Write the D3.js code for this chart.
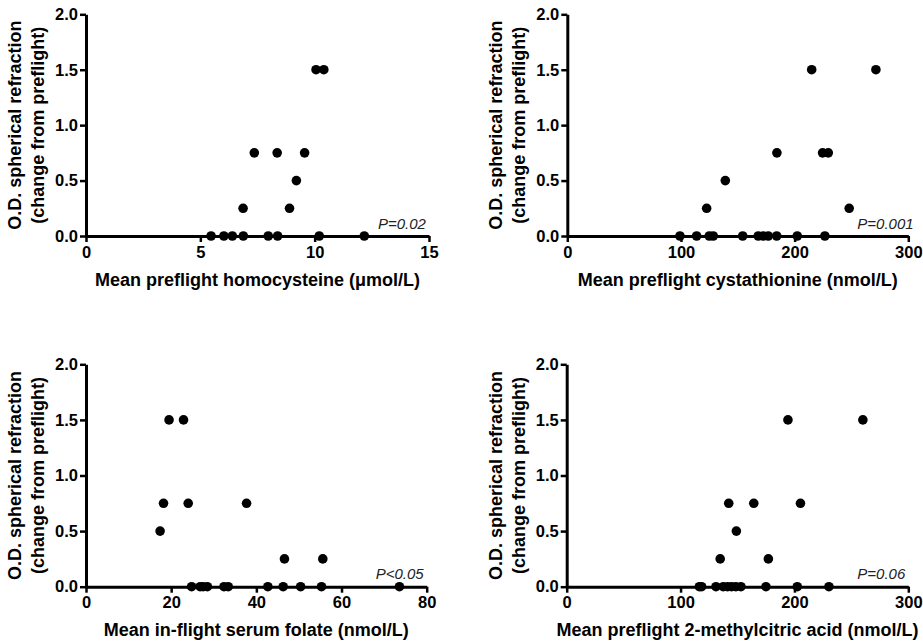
<!DOCTYPE html>
<html><head><meta charset="utf-8">
<script src="https://cdn.jsdelivr.net/npm/d3@7"></script>
<style>
body{margin:0;background:#fff}
svg{display:block}
text{font-family:"Liberation Sans",Arial,Helvetica,sans-serif}
</style>
</head><body><svg id="c" width="923" height="643"></svg>
<script>
// ---- data ----
const yTickValues = [0, 0.5, 1.0, 1.5, 2.0];
const yTitleLines = ["O.D. spherical refraction", "(change from preflight)"];

const homocysteineX = [5.47, 6.03, 6.40, 6.88, 7.97, 8.38, 10.2, 12.17, 6.87, 8.9, 9.2, 7.36, 8.36, 9.56, 10.06, 10.4];
const homocysteineY = [0, 0, 0, 0, 0, 0, 0, 0, 0.25, 0.25, 0.5, 0.75, 0.75, 0.75, 1.5, 1.5];
const homocysteineTicks = [0, 5, 10, 15];

const cystathionineX = [99.1, 113.8, 124.9, 128.4, 154.3, 168, 172.4, 176.8, 184.2, 202.3, 226.6, 122.6, 248, 139, 184.4, 224.6, 229.6, 215, 271.5];
const cystathionineY = [0, 0, 0, 0, 0, 0, 0, 0, 0, 0, 0, 0.25, 0.25, 0.5, 0.75, 0.75, 0.75, 1.5, 1.5];
const cystathionineTicks = [0, 100, 200, 300];

const folateX = [24.8, 26.8, 27.5, 28.5, 32.4, 33.4, 42.7, 46.3, 50.4, 55.3, 73.6, 46.6, 55.6, 17.4, 18.2, 24.0, 37.7, 19.5, 22.9];
const folateY = [0, 0, 0, 0, 0, 0, 0, 0, 0, 0, 0, 0.25, 0.25, 0.5, 0.75, 0.75, 0.75, 1.5, 1.5];
const folateTicks = [0, 20, 40, 60, 80];

const methylcitricX = [116.5, 118.5, 131.1, 137.5, 141.3, 144.8, 148.6, 153.0, 175.0, 202.5, 230.3, 134.8, 177.1, 149, 142.3, 164.3, 205.3, 194.3, 260.1];
const methylcitricY = [0, 0, 0, 0, 0, 0, 0, 0, 0, 0, 0, 0.25, 0.25, 0.5, 0.75, 0.75, 0.75, 1.5, 1.5];
const methylcitricTicks = [0, 100, 200, 300];

const xTitles = [
  "Mean preflight homocysteine (\u03BCmol/L)",
  "Mean preflight cystathionine (nmol/L)",
  "Mean in-flight serum folate (nmol/L)",
  "Mean preflight 2-methylcitric acid (nmol/L)"
];
const pLabels = ["P=0.02", "P=0.001", "P<0.05", "P=0.06"];

// ---- layout ----
const panels = [
  {xs: homocysteineX, ys: homocysteineY, ticks: homocysteineTicks, box: {l: 86, r: 429, t: 14.3, b: 236}},
  {xs: cystathionineX, ys: cystathionineY, ticks: cystathionineTicks, box: {l: 567.3, r: 908.3, t: 14.3, b: 236}},
  {xs: folateX, ys: folateY, ticks: folateTicks, box: {l: 86, r: 426.7, t: 364.3, b: 586.7}},
  {xs: methylcitricX, ys: methylcitricY, ticks: methylcitricTicks, box: {l: 566.7, r: 908.3, t: 364.3, b: 586.7}}
];

const svg = d3.select("#c");

panels.forEach((p, i) => {
  const B = p.box;
  const x = d3.scaleLinear().domain([0, d3.max(p.ticks)]).range([B.l, B.r]);
  const y = d3.scaleLinear().domain([0, 2]).range([B.b, B.t]);
  const g = svg.append("g");

  const ya = g.append("g").attr("transform", `translate(${B.l},0)`)
    .call(d3.axisLeft(y).tickValues(yTickValues).tickFormat(d3.format(".1f"))
      .tickSize(6).tickSizeOuter(0).tickPadding(2));
  const xa = g.append("g").attr("transform", `translate(0,${B.b})`)
    .call(d3.axisBottom(x).tickValues(p.ticks).tickFormat(d3.format("d"))
      .tickSize(6).tickSizeOuter(0).tickPadding(4));

  [ya, xa].forEach(a => {
    a.select(".domain").attr("stroke", "#000").attr("stroke-width", 3);
    a.selectAll(".tick line").attr("stroke", "#000").attr("stroke-width", 2.5);
    a.selectAll(".tick text").attr("fill", "#000").style("font-size", "16.5px")
      .style("font-weight", "bold").style("font-family", '"Liberation Sans",Arial,sans-serif');
  });

  // points
  g.append("g").selectAll("circle").data(p.xs.map((v, k) => [v, p.ys[k]]))
    .join("circle")
    .attr("cx", d => x(d[0])).attr("cy", d => y(d[1])).attr("r", 4.8).attr("fill", "#000");

  // x title
  g.append("text").attr("x", (B.l + B.r) / 2).attr("y", B.b + 49.5)
    .attr("text-anchor", "middle").style("font-size", "18px").style("font-weight", "bold")
    .text(xTitles[i]);

  // y title
  const cy = (B.t + B.b) / 2;
  yTitleLines.forEach((line, k) => {
    const bx = B.l - 65 + k * 23;
    g.append("text").attr("transform", `translate(${bx},${cy}) rotate(-90)`)
      .attr("text-anchor", "middle").style("font-size", "18px").style("font-weight", "bold")
      .text(line);
  });

  // p-value
  g.append("text").attr("x", B.r - 51).attr("y", B.b - 7.5)
    .style("font-size", "15px").style("font-style", "italic").attr("fill", "#222")
    .text(pLabels[i]);
});
</script>
</body></html>
